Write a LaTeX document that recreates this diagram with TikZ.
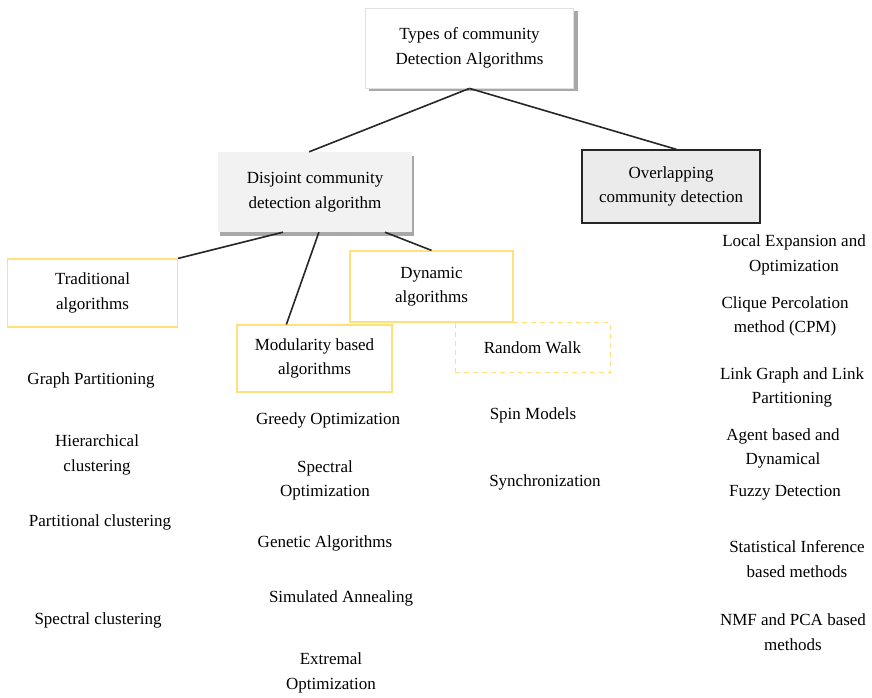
\documentclass[tikz,border=0pt]{standalone}
\usepackage{fontspec}
\setmainfont{Liberation Serif}
\usetikzlibrary{calc}
\definecolor{boxyellow}{HTML}{FFE07A}
\definecolor{lightgrey}{HTML}{F2F2F2}
\definecolor{midgrey}{HTML}{EBEBEB}
\definecolor{shadowgrey}{HTML}{A8A8A8}
\definecolor{linecol}{HTML}{262626}
\begin{document}
\begin{tikzpicture}[x=1pt,y=-1pt,
  every node/.style={font=\fontsize{17}{24.5}\selectfont, align=center, inner sep=0pt},
  graybox/.style={draw=none, fill=lightgrey},
  ybox/.style={draw=boxyellow, line width=1.2pt},
  dashbox/.style={draw=boxyellow, line width=1pt, dashed, dash pattern=on 5pt off 4pt},
  conn/.style={draw=linecol, line width=1.6pt},
  item/.style={text=black}]
\useasboundingbox (0,0) rectangle (872,697);
% shadows
\fill[shadowgrey] (369,11) rectangle (578,91);
\fill[shadowgrey] (220,156) rectangle (414,236);
% main boxes
\node[fill=white, draw=black!12, line width=0.8pt, minimum width=208pt, minimum height=80pt] (top) at (469.5,48) {Types of community\\Detection Algorithms};
\node[graybox, minimum width=194pt, minimum height=80pt] (disj) at (315,192) {Disjoint community\\detection algorithm};
\node[fill=midgrey, draw=linecol, line width=1.3pt, minimum width=178pt, minimum height=73pt] (over) at (671,186.5) {Overlapping\\community detection};
\node[ybox, minimum width=170pt, minimum height=68pt] (trad) at (92.5,293) {Traditional\\algorithms};
\node[ybox, minimum width=155pt, minimum height=67pt] (mod) at (314.5,358.5) {Modularity based\\algorithms};
\node[ybox, minimum width=163pt, minimum height=71pt] (dyn) at (431.5,286.5) {Dynamic\\algorithms};
\node[dashbox, minimum width=155pt, minimum height=50pt] (rw) at (532.5,347.5) {Random Walk};
% connectors
\draw[conn] (top.south) -- ($(disj.north west)!0.47!(disj.north east)$);
\draw[conn] (top.south) -- ($(over.north west)!0.53!(over.north east)$);
\draw[conn] ($(disj.south west)!0.335!(disj.south east)$) -- (trad.north east);
\draw[conn] ($(disj.south west)!0.52!(disj.south east)$) -- ($(mod.north west)!0.32!(mod.north east)$);
\draw[conn] ($(disj.south west)!0.86!(disj.south east)$) -- (dyn.north);
% traditional list
\node[item] (gp) at (91,380) {Graph Partitioning};
\node[item] (hc) at (97,455) {Hierarchical\\clustering};
\node[item] (pc) at (100,522) {Partitional clustering};
\node[item] (sc) at (98,620) {Spectral clustering};
% modularity list
\node[item] (go) at (328,420) {Greedy Optimization};
\node[item] (so) at (325,480.5) {Spectral\\Optimization};
\node[item] (ga) at (325,543) {Genetic Algorithms};
\node[item] (sa) at (341,598) {Simulated Annealing};
\node[item] (eo) at (331,673) {Extremal\\Optimization};
% dynamic list
\node[item] (sm) at (533,415) {Spin Models};
\node[item] (sy) at (545,482) {Synchronization};
% overlapping list
\node[item] (le) at (794,255) {Local Expansion and\\Optimization};
\node[item] (cp) at (785,316.5) {Clique Percolation\\method (CPM)};
\node[item] (lg) at (792,387.5) {Link Graph and Link\\Partitioning};
\node[item] (ab) at (783,448.5) {Agent based and\\Dynamical};
\node[item] (fd) at (785,493) {Fuzzy Detection};
\node[item] (si) at (797,559) {Statistical Inference\\based methods};
\node[item] (nm) at (793,632) {NMF and PCA based\\methods};
\end{tikzpicture}
\end{document}
